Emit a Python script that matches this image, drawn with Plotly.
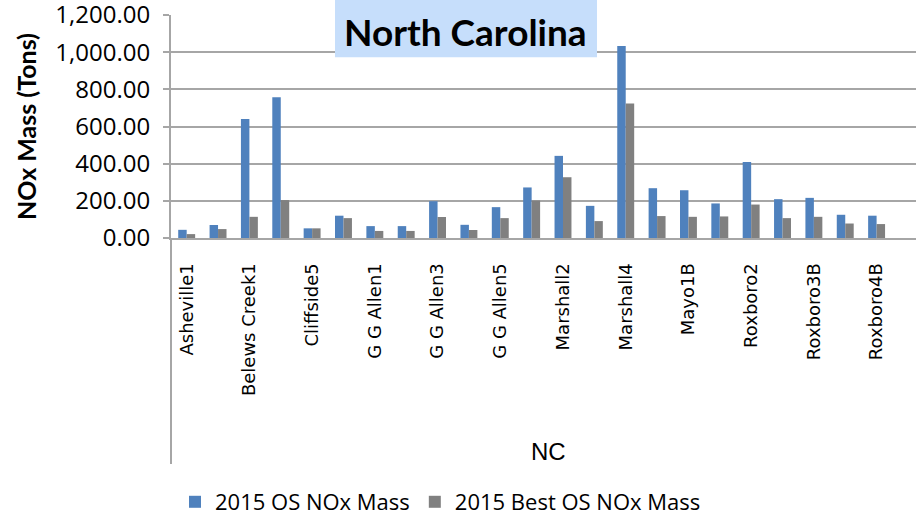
import plotly.graph_objects as go

categories = ["Asheville1", "Asheville2", "Belews Creek1", "Belews Creek2", "Cliffside5",
              "Cliffside6", "G G Allen1", "G G Allen2", "G G Allen3", "G G Allen4",
              "G G Allen5", "Marshall1", "Marshall2", "Marshall3", "Marshall4",
              "Mayo1A", "Mayo1B", "Roxboro1", "Roxboro2", "Roxboro3A",
              "Roxboro3B", "Roxboro4A", "Roxboro4B"]
os_nox = [44, 70, 640, 757, 52, 120, 64, 64, 198, 71, 166, 272, 442, 173, 1033,
          268, 257, 186, 409, 209, 216, 125, 120]
best_nox = [21, 48, 114, 204, 52, 107, 38, 38, 113, 43, 107, 202, 327, 91, 724,
            118, 114, 116, 180, 107, 114, 78, 75]
shown_labels = categories[::2]
y_ticks = [0, 200, 400, 600, 800, 1000, 1200]

W, H = 916, 519
L, R, T, B = 171, 0, 14.7, 519 - 238.3
ph = H - T - B

def py(pix):
    return (H - B - pix) / ph

def px(pix):
    return (pix - L) / (W - L - R)

fig = go.Figure()
fig.add_trace(go.Bar(x=categories, y=os_nox, name="2015 OS NOx Mass",
                     marker=dict(color="#4F81BD", line=dict(width=0))))
fig.add_trace(go.Bar(x=categories, y=best_nox, name="2015 Best OS NOx Mass",
                     marker=dict(color="#808080", line=dict(width=0))))

grid = "#A6A6A6"
fig.update_layout(
    width=W, height=H,
    margin=dict(l=L, r=R, t=T, b=B, autoexpand=False),
    paper_bgcolor="white", plot_bgcolor="white",
    barmode="group", bargap=0.46, bargroupgap=0,
    font=dict(family="Open Sans, sans-serif", color="black"),
    xaxis=dict(
        range=[-0.5, -0.5 + (W - L - R) / 31.36],
        tickmode="array", tickvals=shown_labels, ticktext=shown_labels,
        tickangle=-90, ticks="outside", ticklen=16, tickcolor="rgba(0,0,0,0)",
        tickfont=dict(family="DejaVu Sans", size=18, color="black"),
        showgrid=False, showline=True, linecolor=grid, linewidth=2,
        automargin=False, zeroline=False,
    ),
    yaxis=dict(
        range=[0, 1200], tickvals=y_ticks, tickformat=",.2f",
        ticks="outside", ticklen=6, tickcolor=grid, tickwidth=2,
        ticklabelstandoff=8, ticklabeloverflow="allow",
        tickfont=dict(family="Open Sans", size=24, color="black"),
        showgrid=True, gridcolor=grid, gridwidth=2,
        showline=True, linecolor=grid, linewidth=2,
        zeroline=False, automargin=False,
        title=dict(text="<b>NOx Mass (Tons)</b>", font=dict(family="Lato", size=25, color="black"),
                   standoff=12),
    ),
    legend=dict(orientation="h", x=px(175), xanchor="left", y=py(503), yanchor="middle",
                font=dict(family="Open Sans", size=22, color="black"),
                itemwidth=30, bgcolor="rgba(0,0,0,0)"),
    showlegend=True,
    shapes=[
        dict(type="line", xref="paper", yref="paper", x0=0, x1=0, y0=0, y1=py(465),
             line=dict(color=grid, width=2)),
        dict(type="rect", xref="paper", yref="paper", x0=px(335), x1=px(597),
             y0=py(57), y1=py(-2), fillcolor="#C6DEFB", line=dict(width=0), layer="above"),
    ],
    annotations=[
        dict(text="<b>North Carolina</b>", xref="paper", yref="paper", x=px(465), y=py(31),
             showarrow=False, font=dict(family="Lato", size=37, color="black"),
             xanchor="center", yanchor="middle"),
        dict(text="NC", xref="paper", yref="paper", x=px(548), y=py(452),
             showarrow=False, font=dict(family="Liberation Sans Narrow, Liberation Sans", size=24, color="black"),
             xanchor="center", yanchor="middle"),
    ],
)

fig.write_html("out.html", config={"displayModeBar": False},
               post_script="document.body.style.margin='0';document.body.style.overflow='hidden';")
